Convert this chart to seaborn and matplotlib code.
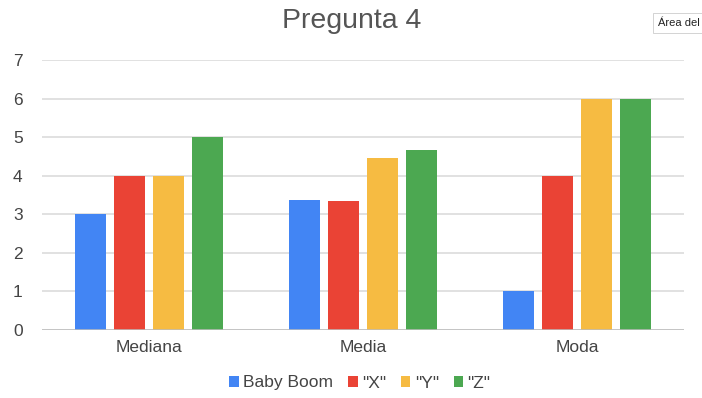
import matplotlib
matplotlib.use("Agg")
import matplotlib.pyplot as plt
import seaborn as sns
import pandas as pd
from matplotlib.patches import Patch

categories = ["Mediana", "Media", "Moda"]
series = ["Baby Boom", '"X"', '"Y"', '"Z"']
baby_boom = [3, 3.38, 1]
x_gen = [4, 3.35, 4]
y_gen = [4, 4.46, 6]
z_gen = [5, 4.66, 6]
colors = ["#4285F4", "#EA4335", "#F6BB42", "#4CA851"]
y_ticks = [0, 1, 2, 3, 4, 5, 6, 7]

rows = []
for name, vals in zip(series, [baby_boom, x_gen, y_gen, z_gen]):
    for cat, v in zip(categories, vals):
        rows.append({"categoria": cat, "serie": name, "valor": v})
df = pd.DataFrame(rows)

sns.set_theme(style="white")
plt.rcParams["font.family"] = ["Liberation Sans", "DejaVu Sans"]

fig = plt.figure(figsize=(7.02, 3.98), dpi=100)
ax = fig.add_axes([42 / 702, 1 - 330 / 398, (684 - 42) / 702, (330 - 60) / 398])

sns.barplot(data=df, x="categoria", y="valor", hue="serie", order=categories,
            hue_order=series, palette=colors, width=0.73, gap=0.2,
            saturation=1, legend=False, linewidth=0, ax=ax, zorder=3)

ax.set_xlim(-0.5, 2.5)
ax.set_ylim(0, 7)
ax.set_yticks(y_ticks)
ax.set_yticklabels([str(t) for t in y_ticks])
ax.grid(axis="y", color="#d9d9d9", linewidth=1.1, zorder=0)
ax.set_axisbelow(True)
for s in ax.spines.values():
    s.set_visible(False)
ax.axhline(0, color="#bdbdbd", linewidth=1.1, zorder=4)
ax.tick_params(axis="both", length=0, labelsize=12.5, labelcolor="#444444")
ax.tick_params(axis="y", pad=14)
ax.tick_params(axis="x", pad=7)
ax.set_xlabel("")
ax.set_ylabel("")

fig.text(352 / 702, 1 - 21 / 398, "Pregunta 4", ha="center", va="center",
         fontsize=20.5, color="#555555")

handles = [Patch(facecolor=c, edgecolor="none") for c in colors]
fig.legend(handles, series, loc="center", bbox_to_anchor=(360 / 702, 1 - 383 / 398),
           ncol=4, frameon=False, fontsize=12.5, handlelength=0.55, handleheight=0.55,
           handletextpad=0.25, columnspacing=0.85, labelcolor="#444444")

fig.text(658 / 702, 1 - 23 / 398, "Área del", ha="left", va="center", fontsize=8,
         color="#222222",
         bbox=dict(boxstyle="square,pad=0.45", facecolor="white", edgecolor="#cccccc",
                   linewidth=0.6))

fig.savefig("out.png", dpi=100)
